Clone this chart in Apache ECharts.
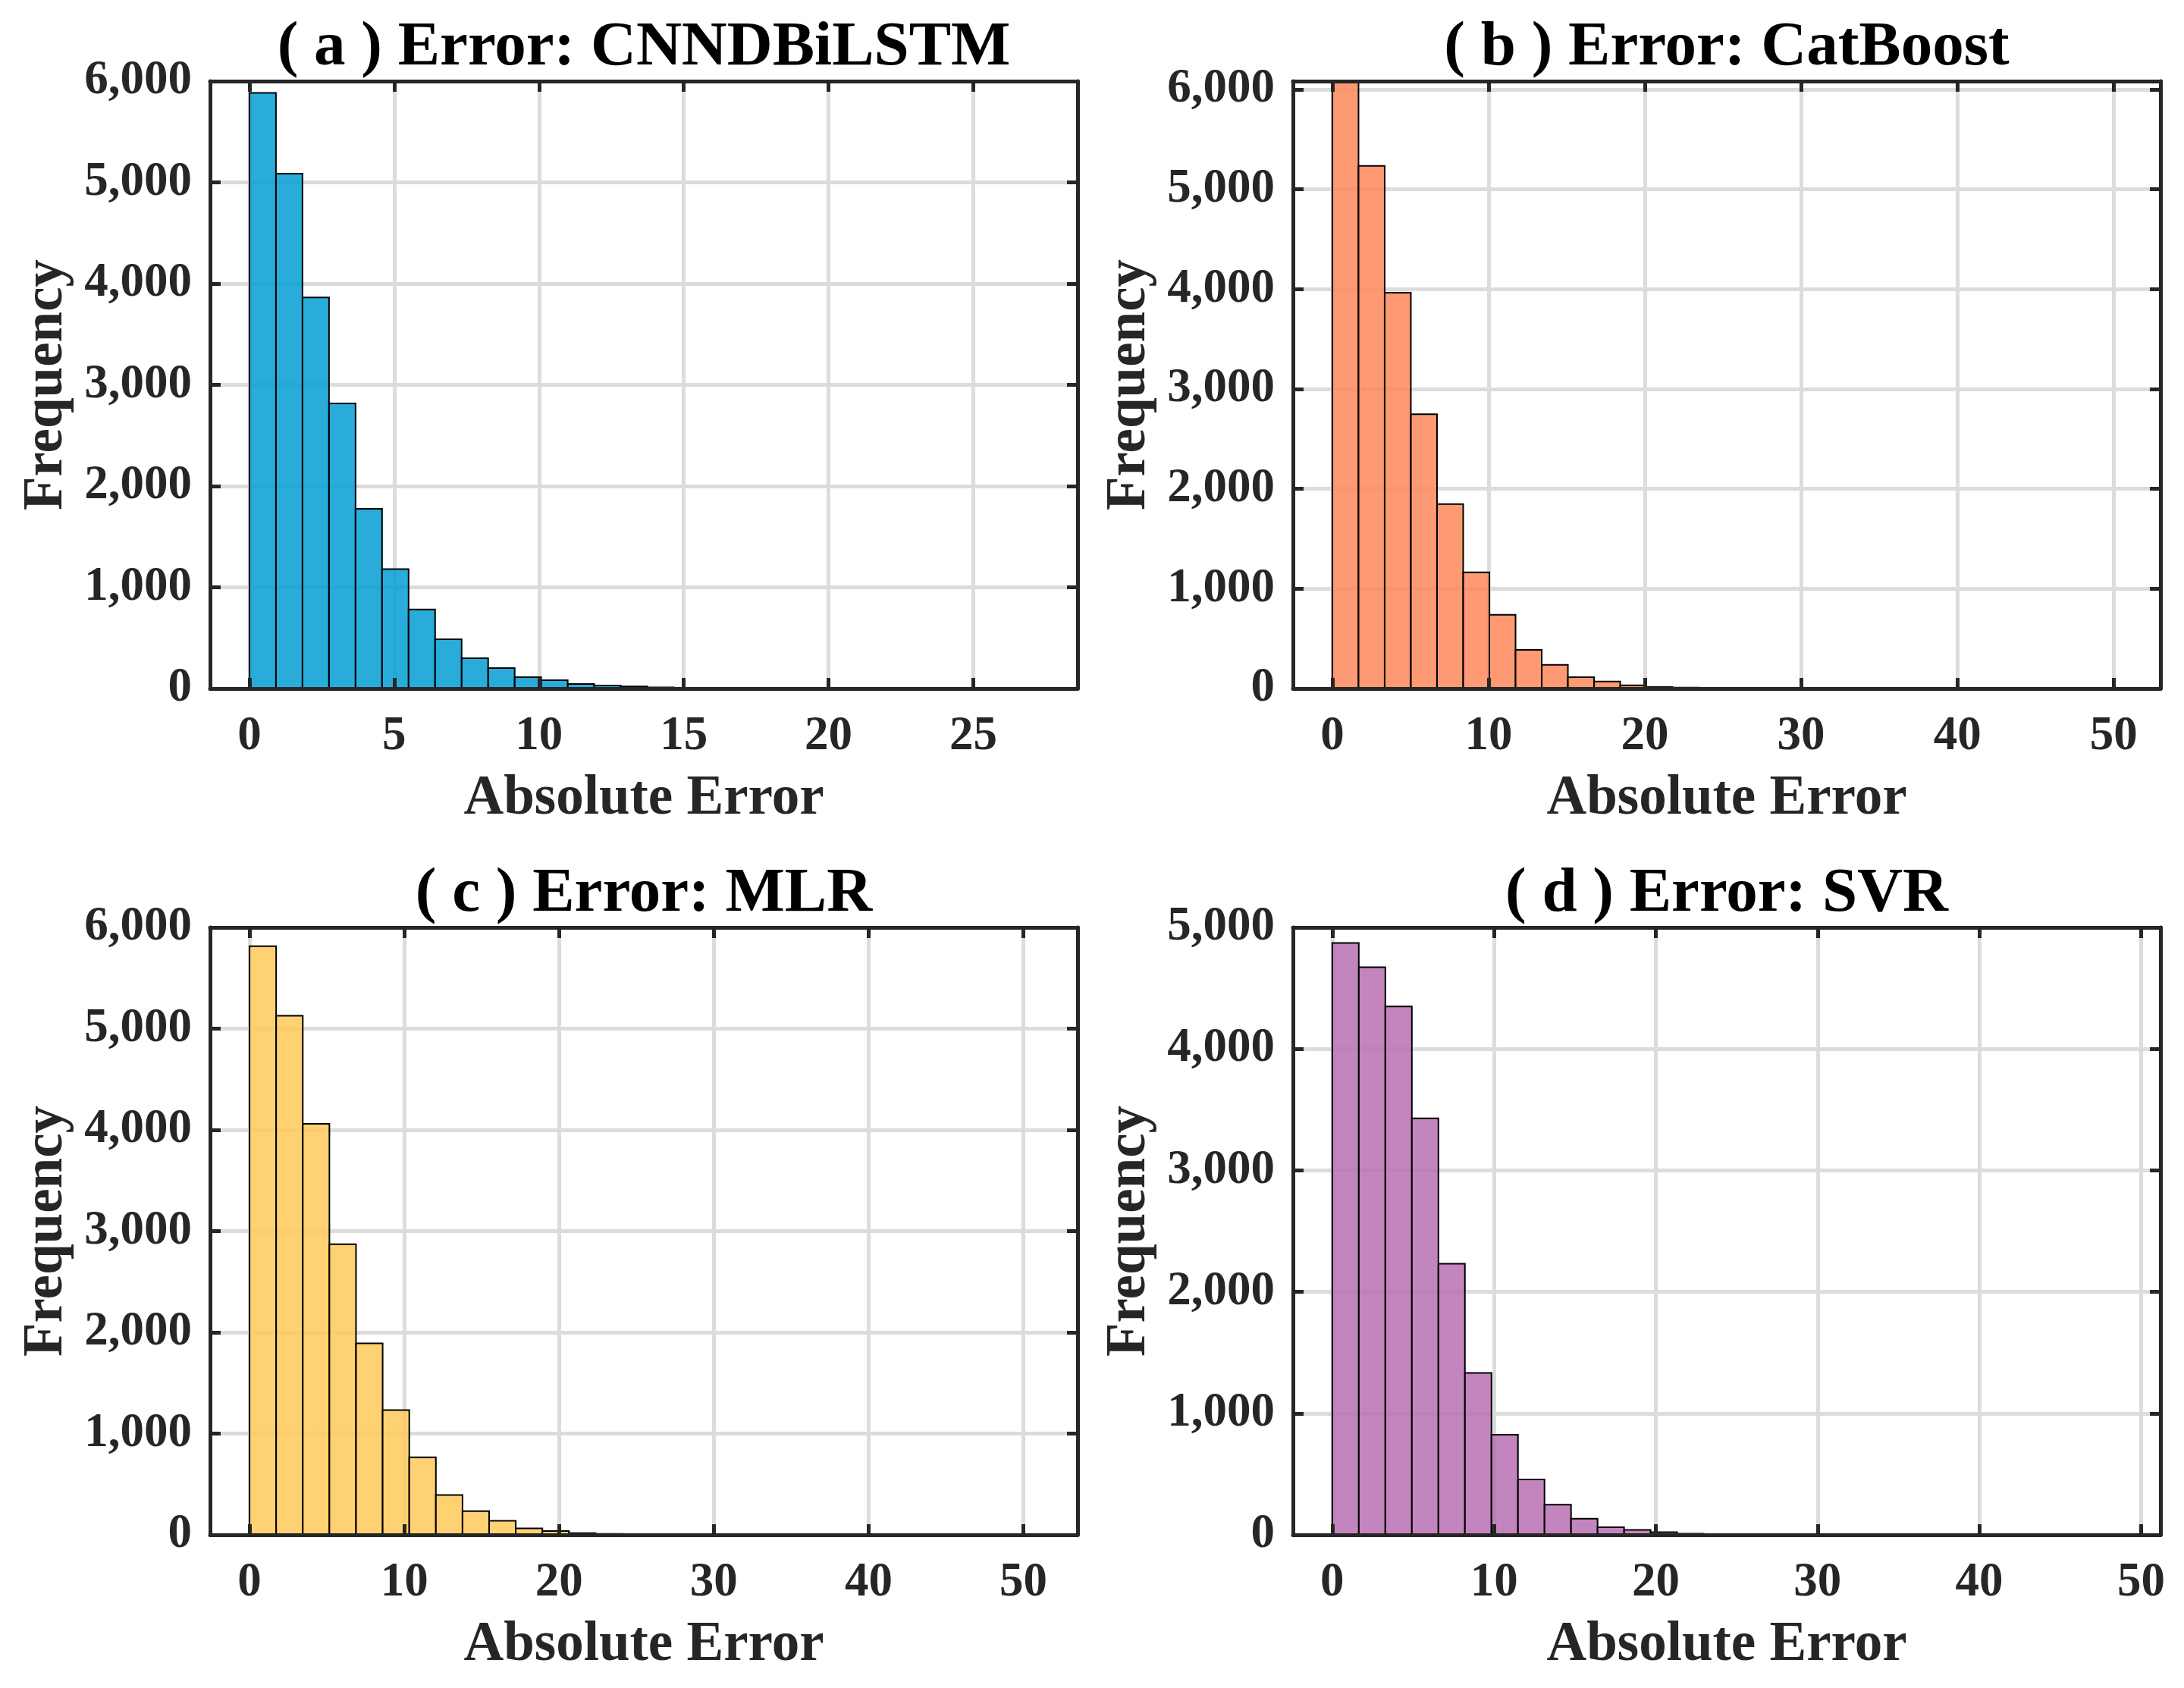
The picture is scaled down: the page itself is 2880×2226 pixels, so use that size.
<!DOCTYPE html>
<html>
<head>
<meta charset="utf-8">
<script src="https://cdn.jsdelivr.net/npm/echarts@6/dist/echarts.min.js"></script>
<style>
  html, body { margin: 0; padding: 0; background: #fff; }
  #container { width: 2880px; height: 2226px; }
</style>
</head>
<body>
<div id="container"></div>
<script>
// histogram counts, 30 bins per panel, bins start at 0
const panelTitles = [
  '( a ) Error: CNNDBiLSTM',
  '( b ) Error: CatBoost',
  '( c ) Error: MLR',
  '( d ) Error: SVR'
];
const binWidths = [0.916, 1.675, 1.72, 1.64];

const countsA = [5883, 5086, 3863, 2817, 1775, 1180, 781, 487, 300, 202,
                 112, 82, 45, 30, 20, 12, 8, 5, 3, 2,
                 1, 1, 1, 0, 0, 1, 0, 0, 0, 1];
const countsB = [6083, 5235, 3964, 2747, 1847, 1163, 738, 388, 237, 113,
                 70, 32, 16, 10, 6, 4, 3, 2, 1, 1,
                 1, 0, 0, 0, 1, 0, 0, 0, 0, 1];
const countsC = [5814, 5128, 4060, 2870, 1892, 1233, 765, 393, 234, 138,
                 64, 37, 16, 10, 8, 5, 3, 2, 1, 1,
                 1, 0, 0, 1, 0, 0, 0, 0, 0, 1];
const countsD = [4872, 4673, 4349, 3428, 2232, 1333, 824, 456, 248, 133,
                 62, 40, 22, 10, 6, 4, 3, 2, 1, 1,
                 0, 0, 1, 0, 0, 0, 0, 0, 0, 1];
const allCounts = [countsA, countsB, countsC, countsD];

// axis limits and tick steps
const xRanges = [[-1.36, 28.6], [-2.52, 53.0], [-2.55, 53.5], [-2.43, 51.2]];
const xSteps  = [5, 10, 10, 10];
const yMaxes  = [6000, 6083, 6000, 5000];
const yStep   = 1000;

// styles / layout
const barColors = ['rgba(4,158,212,0.85)', 'rgba(253,136,91,0.85)',
                   'rgba(254,202,91,0.85)', 'rgba(184,112,179,0.85)'];
const boxes = [
  { left: 277,  top: 107 },
  { left: 1705, top: 107 },
  { left: 277,  top: 1223 },
  { left: 1705, top: 1223 }
];
const boxW = 1144, boxH = 801;
const dark = '#262626';
const font = 'Liberation Serif';

function onStep(v, step) {
  const r = v / step;
  return Math.abs(r - Math.round(r)) < 1e-6;
}

let grids = [], xAxes = [], yAxes = [], series = [], titles = [];

allCounts.forEach(function (counts, i) {
  const b = boxes[i];
  grids.push({ left: b.left, top: b.top, width: boxW, height: boxH, containLabel: false });

  titles.push({
    text: panelTitles[i],
    left: b.left + boxW / 2,
    top: b.top - 85,
    textAlign: 'center',
    padding: 0,
    textStyle: { fontFamily: font, fontWeight: 'bold', fontSize: 83, color: '#000' }
  });

  const xs = xSteps[i];
  const xBase = {
    gridIndex: i, type: 'value',
    min: xRanges[i][0], max: xRanges[i][1],
    minInterval: xs, maxInterval: xs
  };
  const yBase = {
    gridIndex: i, type: 'value',
    min: 0, max: yMaxes[i],
    minInterval: yStep, maxInterval: yStep
  };
  const lineSt = { color: dark, width: 5 };
  const tickSt = { show: true, inside: true, length: 14, lineStyle: { color: dark, width: 5 } };
  const labelSt = { fontFamily: font, fontWeight: 'bold', fontSize: 63, color: dark };
  const nameSt = { fontFamily: font, fontWeight: 'bold', fontSize: 73, color: dark };

  // x: bottom (labels), top (mirror), grid lines
  xAxes.push(Object.assign({}, xBase, {
    position: 'bottom', z: 10,
    axisLine: { show: true, onZero: false, lineStyle: lineSt },
    axisTick: tickSt,
    axisLabel: Object.assign({
      margin: 32,
      formatter: v => (onStep(v, xs) && v >= 0) ? String(Math.round(v)) : ''
    }, labelSt),
    splitLine: { show: false },
    name: 'Absolute Error', nameLocation: 'middle', nameGap: 110,
    nameTextStyle: nameSt
  }));
  xAxes.push(Object.assign({}, xBase, {
    position: 'top', z: 10,
    axisLine: { show: true, onZero: false, lineStyle: lineSt },
    axisTick: tickSt,
    axisLabel: { show: false },
    splitLine: { show: false }
  }));
  xAxes.push(Object.assign({}, xBase, {
    position: 'bottom', z: 0,
    axisLine: { show: false }, axisTick: { show: false }, axisLabel: { show: false },
    splitLine: { show: true, lineStyle: { color: '#dcdcdc', width: 5 } }
  }));

  // y: left (labels), right (mirror), grid lines
  yAxes.push(Object.assign({}, yBase, {
    position: 'left', z: 10,
    axisLine: { show: true, onZero: false, lineStyle: lineSt },
    axisTick: tickSt,
    axisLabel: Object.assign({
      margin: 24,
      formatter: v => onStep(v, yStep) ? Math.round(v).toLocaleString('en-US') : ''
    }, labelSt),
    splitLine: { show: false },
    name: 'Frequency', nameLocation: 'middle', nameGap: 178,
    nameTextStyle: nameSt
  }));
  yAxes.push(Object.assign({}, yBase, {
    position: 'right', z: 10,
    axisLine: { show: true, onZero: false, lineStyle: lineSt },
    axisTick: tickSt,
    axisLabel: { show: false },
    splitLine: { show: false }
  }));
  yAxes.push(Object.assign({}, yBase, {
    position: 'left', z: 0,
    axisLine: { show: false }, axisTick: { show: false }, axisLabel: { show: false },
    splitLine: { show: true, lineStyle: { color: '#dcdcdc', width: 5 } }
  }));

  const w = binWidths[i];
  const data = counts.map((c, k) => [k * w, (k + 1) * w, c]);
  const fill = barColors[i];

  series.push({
    type: 'custom',
    xAxisIndex: 3 * i,
    yAxisIndex: 3 * i,
    clip: true,
    z: 2,
    encode: { x: [0, 1], y: 2 },
    data: data,
    renderItem: function (params, api) {
      const p0 = api.coord([api.value(0), api.value(2)]);
      const p1 = api.coord([api.value(1), 0]);
      return {
        type: 'rect',
        shape: { x: p0[0], y: p0[1], width: p1[0] - p0[0], height: p1[1] - p0[1] },
        style: { fill: fill, stroke: '#000', lineWidth: 2 }
      };
    }
  });
});

let option = {
  backgroundColor: '#fff',
  animation: false,
  title: titles,
  grid: grids,
  xAxis: xAxes,
  yAxis: yAxes,
  series: series
};

let chartDom = document.getElementById('container');
let chrt = echarts.init(chartDom);
chrt.setOption(option);
</script>
</body>
</html>
